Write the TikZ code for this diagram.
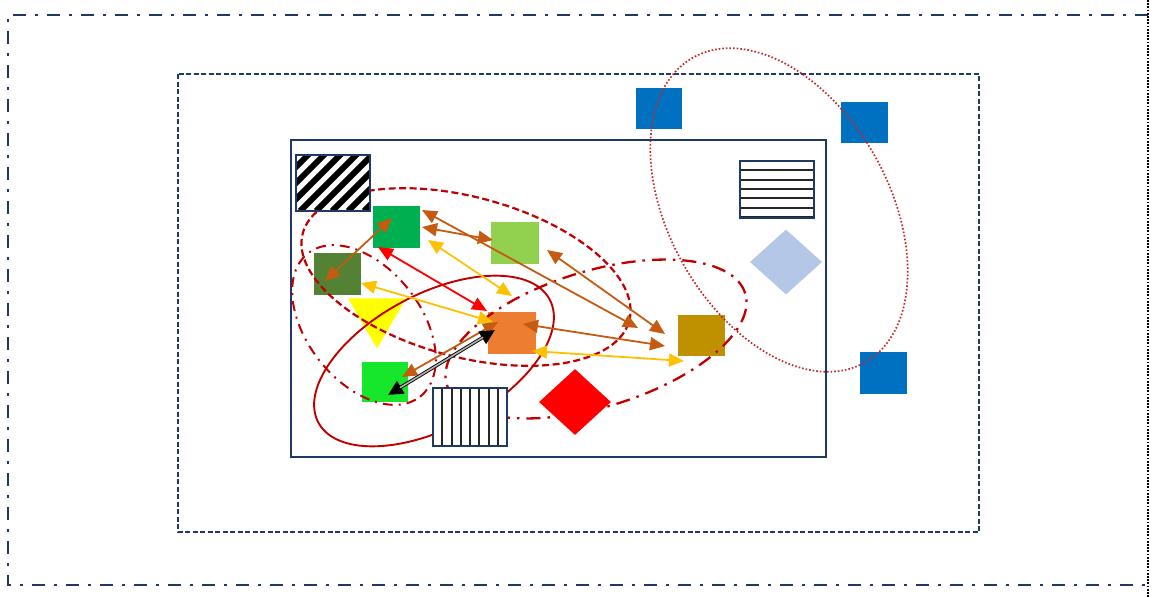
\documentclass[tikz,border=0pt]{standalone}
\usetikzlibrary{arrows.meta,shapes.geometric}
\definecolor{navy}{HTML}{203864}
\definecolor{ered}{HTML}{C00000}
\definecolor{cGreen}{HTML}{00B050}
\definecolor{cLGreen}{HTML}{92D050}
\definecolor{cDGreen}{HTML}{548235}
\definecolor{cYellow}{HTML}{FFFF00}
\definecolor{cOrange}{HTML}{ED7D31}
\definecolor{cGold}{HTML}{BF9000}
\definecolor{cBGreen}{HTML}{16E72B}
\definecolor{cRed}{HTML}{FF0000}
\definecolor{cLBlue}{HTML}{B4C7E7}
\definecolor{cBlue}{HTML}{0070C0}
\definecolor{aBrown}{HTML}{C55A11}
\definecolor{aYellow}{HTML}{FFC000}
\begin{document}
\begin{tikzpicture}[x=1pt,y=-1pt,
  sq/.style={draw=none,inner sep=0pt,outer sep=0pt,minimum width=47pt,minimum height=42pt},
  hbox/.style={draw=navy,fill=white,line width=1.8pt,inner sep=0pt,outer sep=0pt,minimum width=74pt,minimum height=57pt},
  outerframe/.style={draw=navy,line width=1.6pt,dash pattern=on 13pt off 9pt on 3pt off 9pt},
  midframe/.style={draw=navy,line width=1.3pt,dash pattern=on 5pt off 2.5pt},
  innerframe/.style={draw=navy,line width=1.5pt},
  ellA/.style={draw=ered,line width=2.2pt,dash pattern=on 7pt off 3.5pt},
  ellB/.style={draw=ered,line width=2pt,dash pattern=on 10pt off 6pt on 2pt off 6pt},
  ellC/.style={draw=ered,line width=1.9pt},
  ellD/.style={draw=ered,line width=2.3pt,dash pattern=on 14pt off 7pt on 2.5pt off 7pt},
  ellE/.style={draw=ered!85,line width=1.7pt,dash pattern=on 1.6pt off 2pt},
  arr/.style={line width=1.8pt,{Triangle[length=15pt,width=13pt]}-{Triangle[length=15pt,width=13pt]}},
  brownarr/.style={arr,draw=aBrown,fill=aBrown},
  yelarr/.style={arr,draw=aYellow,fill=aYellow},
  redarr/.style={arr,draw=cRed,fill=cRed},
]
\useasboundingbox (0,0) rectangle (1153,597);
% frames
\draw[outerframe] (1148,15) -- (8,15) -- (8,585) -- (1148,585);
\draw[black,line width=1.8pt,dash pattern=on 1.8pt off 1.4pt] (1148,0) -- (1148,597);
\draw[midframe] (178,74) rectangle (979,532);
\draw[innerframe] (291,140) rectangle (826,457);

% coloured shapes
\node[sq,fill=cGreen,minimum width=47pt,minimum height=42pt] (sqG) at (396.5,227) {};
\node[sq,fill=cLGreen,minimum width=48pt,minimum height=42pt] (sqLG) at (515,243) {};
\node[sq,fill=cDGreen,minimum width=47pt,minimum height=42pt] (sqDG) at (337.5,274) {};
\node[regular polygon,regular polygon sides=3,shape border rotate=180,fill=cYellow,minimum size=67pt,inner sep=0pt] (tri) at (377,315) {};
\node[sq,fill=cOrange,minimum width=48pt,minimum height=42pt] (sqO) at (512,333) {};
\node[sq,fill=cGold,minimum width=47pt,minimum height=41pt] (sqGo) at (701.5,335.5) {};
\node[sq,fill=cBGreen,minimum width=46pt,minimum height=40pt] (sqBG) at (385,382) {};
\node[diamond,fill=cLBlue,minimum width=72pt,minimum height=65pt,inner sep=0pt] (dLB) at (786,262) {};
\node[sq,fill=cBlue,minimum width=46pt,minimum height=41pt] (bl1) at (659,108.5) {};
\node[sq,fill=cBlue,minimum width=47pt,minimum height=41pt] (bl2) at (864.5,122.5) {};
\node[sq,fill=cBlue,minimum width=47pt,minimum height=42pt] (bl3) at (883.5,373) {};

% ellipses
\draw[ellE,rotate around={-60.6:(779,210)}] (779,210) ellipse [x radius=175pt,y radius=110pt];
\draw[ellA,rotate around={-15:(466,277)}] (466,277) ellipse [x radius=169pt,y radius=80pt];
\draw[ellB,rotate around={-52:(364,325)}] (364,325) ellipse [x radius=91pt,y radius=57pt];
\draw[ellC,rotate around={28:(434,361)}] (434,361) ellipse [x radius=131pt,y radius=67pt];
\draw[ellD,rotate around={17:(596,339)}] (596,339) ellipse [x radius=156pt,y radius=68pt];

% shapes on top of ellipses
\node[diamond,fill=cRed,minimum width=72pt,minimum height=66pt,inner sep=0pt] (dR) at (575,402) {};

\node[hbox,minimum height=56pt] (hbD) at (333,183) {};
\begin{scope}
  \clip (hbD.south west) rectangle (hbD.north east);
  \foreach \i in {-5,...,5} {
    \draw[black,line width=6pt] ([xshift=\i*16pt+4pt]hbD.south west) -- ++(70,-70);
  }
\end{scope}
\node[hbox,minimum height=56pt,fill=none] at (hbD.center) {};

\node[hbox] (hbH) at (777,189.5) {};
\begin{scope}
  \clip (hbH.south west) rectangle (hbH.north east);
  \foreach \i in {1,...,6} {
    \draw[black!85,line width=2pt] ([yshift=-\i*9.3pt]hbH.north west) -- ++(80,0);
  }
\end{scope}
\node[hbox,fill=none] at (hbH.center) {};

\node[hbox,minimum height=58pt] (hbV) at (470,417) {};
\begin{scope}
  \clip (hbV.south west) rectangle (hbV.north east);
  \foreach \i in {1,...,7} {
    \draw[black!85,line width=2pt] ([xshift=\i*9.25pt]hbV.north west) -- ++(0,70);
  }
\end{scope}
\node[hbox,minimum height=58pt,fill=none] at (hbV.center) {};

% connectors
\draw[brownarr] ([shift={(-12.5,7)}]sqDG.center) -- ([shift={(-4.5,-9)}]sqG.center);
\draw[brownarr] ([shift={(25.5,-17)}]sqG.center) -- ([shift={(-63.5,-7.5)}]sqGo.center);
\draw[brownarr] ([shift={(25.5,0)}]sqG.center) -- ([shift={(-22,-3)}]sqLG.center);
\draw[brownarr] ([shift={(32,7)}]sqLG.center) -- ([shift={(-36.5,-1.5)}]sqGo.center);
\draw[brownarr] ([shift={(11,-9)}]sqO.center) -- ([shift={(-36.5,10.5)}]sqGo.center);
\draw[brownarr] ([shift={(-14,-11)}]sqO.center) -- ([shift={(17,-5)}]sqBG.center);
\draw[yelarr] ([shift={(31.5,13)}]sqG.center) -- ([shift={(0,-37)}]sqO.center);
\draw[yelarr] ([shift={(23.5,9)}]sqDG.center) -- ([shift={(-19,-11)}]sqO.center);
\draw[yelarr] ([shift={(20,18)}]sqO.center) -- ([shift={(-17.5,25.5)}]sqGo.center);
\draw[redarr] ([shift={(-18.5,20)}]sqG.center) -- ([shift={(-25,-22)}]sqO.center);
\draw[black,line width=3.4pt,{Triangle[length=15pt,width=14pt]}-{Triangle[length=15pt,width=14pt]}] ([shift={(3,13)}]sqBG.center) -- ([shift={(-17,-3)}]sqO.center);
\draw[gray!60,line width=1.6pt,shorten <=14pt,shorten >=14pt] ([shift={(3,13)}]sqBG.center) -- ([shift={(-17,-3)}]sqO.center);
\end{tikzpicture}
\end{document}
